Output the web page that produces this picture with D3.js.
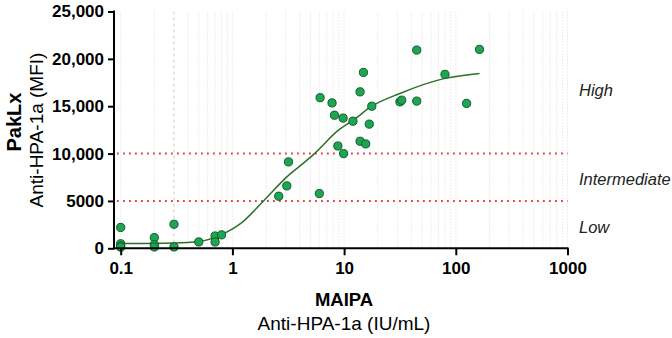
<!DOCTYPE html>
<html>
<head>
<meta charset="utf-8">
<script src="https://cdn.jsdelivr.net/npm/d3@7/dist/d3.min.js"></script>
<style>
  body { margin: 0; background: #FFFFFF; }
  text { font-family: "Liberation Sans", Arial, sans-serif; }
</style>
</head>
<body>
<svg></svg>
<script>
//--Data
//Measured points: MAIPA (IU/mL) vs PakLx (MFI)
const maipa = [0.1, 0.1, 0.1, 0.1, 0.2, 0.2, 0.2, 0.3, 0.3, 0.5, 0.7, 0.7, 0.8,
  2.6, 3.07, 3.18, 6.0, 6.1, 7.8, 8.2, 8.8, 9.8, 9.9, 12, 13.9, 14.9, 13.9, 15.6,
  16.8, 17.7, 31.6, 32.8, 44.7, 44.7, 80, 125, 163];
const paklx = [2200, 480, 250, 120, 1130, 390, 140, 2540, 140, 670, 1300, 670, 1420,
  5500, 6590, 9120, 5780, 15900, 15350, 14050, 10800, 13750, 10000, 13420, 16520, 18570, 11300, 11020,
  13110, 15000, 15460, 15640, 20930, 15540, 18360, 15300, 21000];

//Fitted curve, sampled along the drawn line
const fitX = [0.1, 0.3, 0.5, 0.8, 1.18, 1.9, 3.07, 4.6, 5.43, 8.9, 12.1, 17.7, 31.6, 80, 163];
const fitY = [500, 560, 720, 1450, 2600, 5000, 7540, 9250, 10000, 12470, 13530, 15000, 16350, 17940, 18460];

//Cut-offs and their labels
const cutoffs = [5000, 10000];
const bands = ["Low", "Intermediate", "High"];
const bandY = [2250, 7320, 16700];

//Axis ticks
const xTicks = [0.1, 1, 10, 100, 1000];
const xTickLabels = ["0.1", "1", "10", "100", "1000"];
const yTicks = [0, 5000, 10000, 15000, 20000, 25000];
const yTickLabels = ["0", "5000", "10,000", "15,000", "20,000", "25,000"];

//--Shared info
var canvas = {
  width: 672,
  height: 338,
  axisX: 114,
  green: "#1FA552",
  greenDark: "#0E5E2C",
  curve: "#2F6E2C",
  red: "#E0404A"
};
canvas.x = d3.scaleLog().domain([0.1, 1000]).range([120.7, 567.5]);
canvas.y = d3.scaleLinear().domain([0, 25000]).range([248.3, 11.5]);

let root = d3
  .select("svg")
  .attr("width", canvas.width)
  .attr("height", canvas.height)
  .style("background-color", "#FFFFFF");

//--Vertical minor gridlines
let gridVals = [];
[0.1, 1, 10, 100].forEach(d => {
  for (let k = 1; k <= 9; k++) gridVals.push(d * k);
});
gridVals.push(1000);
root
  .append("g")
  .selectAll("line")
  .data(gridVals)
  .enter()
  .append("line")
  .attr("x1", d => canvas.x(d))
  .attr("x2", d => canvas.x(d))
  .attr("y1", canvas.y(25000))
  .attr("y2", canvas.y(0))
  .attr("stroke", d => Math.abs(d - 0.3) < 1e-9 ? "#CBCBCB" : "#DDDDDD")
  .attr("stroke-width", 1)
  .attr("stroke-dasharray", d => Math.abs(d - 0.3) < 1e-9 ? "3,3" : "1,2");

//--Cut-off lines
root
  .append("g")
  .selectAll("line")
  .data(cutoffs)
  .enter()
  .append("line")
  .attr("x1", canvas.axisX + 3)
  .attr("x2", canvas.x(1000))
  .attr("y1", d => canvas.y(d))
  .attr("y2", d => canvas.y(d))
  .attr("stroke", canvas.red)
  .attr("stroke-width", 2)
  .attr("stroke-dasharray", "1.8,4.2");

root
  .append("g")
  .selectAll("text")
  .data(bands)
  .enter()
  .append("text")
  .attr("x", 579)
  .attr("y", (d, i) => canvas.y(bandY[i]) + 6)
  .style("font-size", "16.5px")
  .style("font-style", "italic")
  .style("fill", "#222")
  .text(d => d);

//--Fitted curve
let line = d3
  .line()
  .x(d => canvas.x(d[0]))
  .y(d => canvas.y(d[1]))
  .curve(d3.curveMonotoneX);
root
  .append("path")
  .datum(fitX.map((d, i) => [d, fitY[i]]))
  .attr("d", line)
  .attr("fill", "none")
  .attr("stroke", canvas.curve)
  .attr("stroke-width", 1.5);

//--Scatter
root
  .append("g")
  .selectAll("circle")
  .data(maipa.map((d, i) => [d, paklx[i]]))
  .enter()
  .append("circle")
  .attr("r", 4.1)
  .attr("cx", d => canvas.x(d[0]))
  .attr("cy", d => canvas.y(d[1]))
  .style("fill", canvas.green)
  .style("stroke", canvas.greenDark)
  .style("stroke-width", 1);

//--Axes
let xAxis = root
  .append("g")
  .attr("transform", "translate(0," + canvas.y(0) + ")")
  .call(d3.axisBottom(canvas.x).tickValues(xTicks).tickFormat((d, i) => xTickLabels[i]).tickSize(7).tickPadding(7));
xAxis.select(".domain").remove();
xAxis
  .append("line")
  .attr("x1", canvas.axisX - 1)
  .attr("x2", canvas.x(1000) + 1);
let yAxis = root
  .append("g")
  .attr("transform", "translate(" + canvas.axisX + ",0)")
  .call(d3.axisLeft(canvas.y).tickValues(yTicks).tickFormat((d, i) => yTickLabels[i]).tickSize(6).tickPadding(4));
yAxis.select(".domain").remove();
yAxis
  .append("line")
  .attr("y1", canvas.y(25000) - 1)
  .attr("y2", canvas.y(0) + 1);
[xAxis, yAxis].forEach(a => {
  a.selectAll("line").attr("stroke", "#000").attr("stroke-width", 2);
  a.selectAll("text")
    .style("font-family", "'Liberation Sans', Arial, sans-serif")
    .style("font-size", "17px")
    .style("font-weight", "bold")
    .style("fill", "#000");
});

//--Axis titles
root
  .append("text")
  .attr("x", 344)
  .attr("y", 306)
  .attr("text-anchor", "middle")
  .style("font-size", "18.5px")
  .style("font-weight", "bold")
  .text("MAIPA");
root
  .append("text")
  .attr("x", 344)
  .attr("y", 330)
  .attr("text-anchor", "middle")
  .style("font-size", "19px")
  .text("Anti-HPA-1a (IU/mL)");
root
  .append("text")
  .attr("transform", "translate(21,122) rotate(-90)")
  .attr("text-anchor", "middle")
  .style("font-size", "20px")
  .style("font-weight", "bold")
  .text("PakLx");
root
  .append("text")
  .attr("transform", "translate(43,130) rotate(-90)")
  .attr("text-anchor", "middle")
  .style("font-size", "19px")
  .text("Anti-HPA-1a (MFI)");
</script>
</body>
</html>
